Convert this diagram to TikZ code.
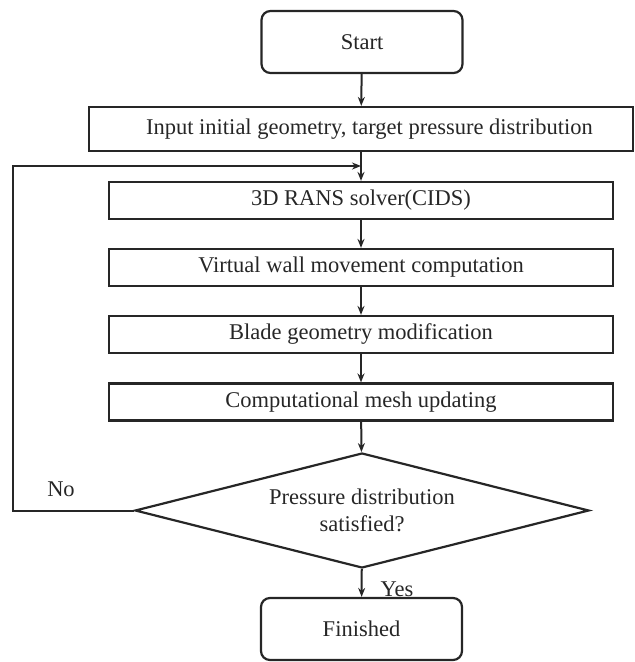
\documentclass[tikz,border=0pt]{standalone}
\usepackage{fontspec}
\setmainfont{Liberation Serif}
\usetikzlibrary{shapes.geometric,arrows.meta}
\begin{document}
\begin{tikzpicture}[x=1pt,y=-1pt,
  line width=2.2pt,
  every node/.style={font=\fontsize{22.5}{27}\selectfont, text=black!85},
  procbox/.style={draw=black!85, line width=2.2pt, rectangle, inner sep=0pt, align=center},
  termbox/.style={draw=black!85, line width=2.2pt, rectangle, rounded corners=9pt, inner sep=0pt, minimum width=201pt, minimum height=62pt},
  decbox/.style={draw=black!85, line width=2.2pt, diamond, aspect=3.95, inner sep=0pt, minimum width=454pt, minimum height=115pt, align=center},
  flow/.style={draw=black!85, line width=2pt, -{Stealth[length=9pt,width=7pt]}},
  lbl/.style={inner sep=0pt}
]
\useasboundingbox (0,0) rectangle (635,662);
\node[termbox] (start) at (362,42) {Start};
\node[procbox, minimum width=544pt, minimum height=44pt] (input) at (361,129) {\hspace*{17pt}Input initial geometry, target pressure distribution};
\node[procbox, minimum width=504pt, minimum height=37pt] (rans) at (361,200.5) {3D RANS solver(CIDS)};
\node[procbox, minimum width=504pt, minimum height=37pt] (wall) at (361,267.5) {Virtual wall movement computation};
\node[procbox, minimum width=504pt, minimum height=37pt] (blade) at (361,334.5) {Blade geometry modification};
\node[procbox, minimum width=504pt, minimum height=37pt] (mesh) at (361,402) {Computational mesh updating};
\node[decbox] (dec) at (362,510.5) {Pressure distribution\\satisfied?};
\node[termbox] (fin) at (361.5,629) {Finished};
\coordinate (corner) at (13,166);
\coordinate (join) at (361,166);
\node[lbl] (no) at (61,489) {No};
\node[lbl] (yes) at (397,589) {Yes};

\draw[flow] (start) -- (input);
\draw[flow] (input) -- (rans);
\draw[flow] (rans) -- (wall);
\draw[flow] (wall) -- (blade);
\draw[flow] (blade) -- (mesh);
\draw[flow] (mesh) -- (dec);
\draw[flow] (dec) -- (fin);
\draw[flow] (dec.west) -| (corner) -- (join);
\end{tikzpicture}
\end{document}
